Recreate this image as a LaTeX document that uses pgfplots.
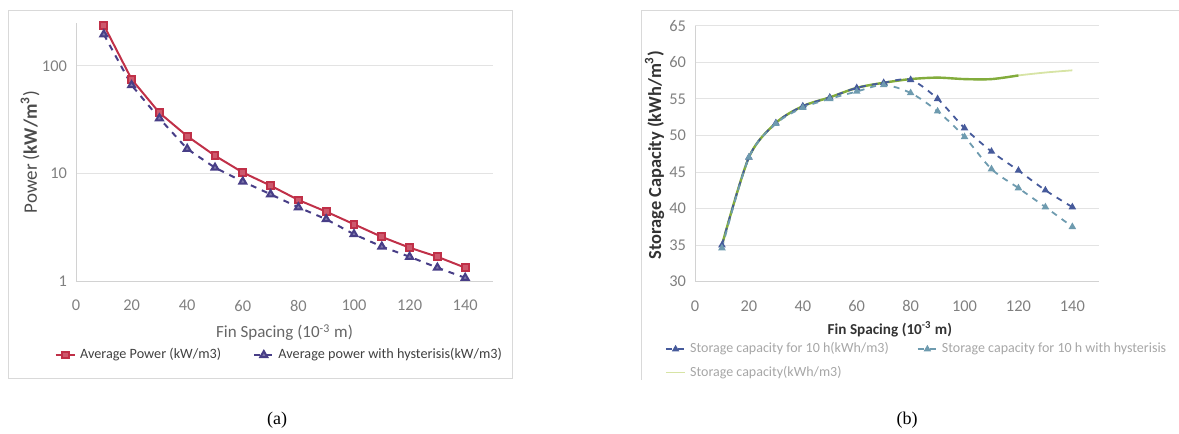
\documentclass[border=0pt]{standalone}
\usepackage{fontspec}
\setmainfont{Carlito}
\newfontfamily\capfont{Liberation Serif}
\usepackage{pgfplots}
\pgfplotsset{compat=1.18}
\definecolor{pred}{RGB}{192,48,72}
\definecolor{ppur}{RGB}{72,62,135}
\definecolor{bblue}{RGB}{70,90,155}
\definecolor{bteal}{RGB}{110,155,175}
\definecolor{bgreen}{RGB}{130,172,60}
\definecolor{bpale}{RGB}{215,228,165}
\begin{document}
\begin{tikzpicture}
\useasboundingbox (0,0) rectangle (589.5pt,217pt);
% frames
\draw[gray!30] (4pt,28pt) rectangle (256pt,212pt);
\draw[gray!30] (320.5pt,27pt) -- (320.5pt,212pt) -- (589.5pt,212pt);
\pgfplotsset{
  common/.style={
    scale only axis, anchor=south west,
    xmin=0, xmax=150, xtick={0,20,...,140},
    axis lines*=left,
    axis line style={gray!35},
    ymajorgrids, grid style={gray!22},
    major tick length=0pt, tick style={draw=none},
    /pgf/number format/assume math mode=true,
    ticklabel style={font=\fontsize{8.2}{9}\selectfont, text=gray},
    xticklabel style={yshift=-6pt},
    yticklabel style={xshift=-1pt},
    legend image code/.code={\draw[mark repeat=2,mark phase=2,##1] plot coordinates {(0cm,0cm) (0.17cm,0cm) (0.34cm,0cm)};},
  }
}
\begin{axis}[common,
  at={(38pt,76.5pt)}, width=208.5pt, height=129pt,
  ymode=log, ymin=1, ymax=250,
  ytick={1,10,100}, yticklabels={1,10,100},
  xlabel={Fin Spacing (10\textsuperscript{-3} m)},
  xlabel style={at={(axis description cs:0.5,-0.20)}, anchor=center, font=\fontsize{8.5}{10}\selectfont, text=gray!80!black},
  ylabel={Power (\textbf{kW/m\textsuperscript{3}})},
  ylabel style={at={(axis description cs:-0.11,0.5)}, anchor=center, font=\fontsize{9.5}{11}\selectfont, text=gray!60!black},
  legend style={at={(axis description cs:0.49,-0.287)}, anchor=center, draw=none, fill=none,
    legend columns=2, font=\fontsize{7.1}{9}\selectfont, text=gray!50!black,
    /tikz/every even column/.append style={column sep=14pt}},
  legend cell align=left,
]
\addplot[pred, line width=1pt, mark=square*, mark size=1.7pt, mark options={solid, fill=pred!80}] coordinates {
(10,239) (20,75) (30,36.6) (40,22.2) (50,14.6) (60,10.2) (70,7.7) (80,5.66) (90,4.41) (100,3.37) (110,2.57) (120,2.04) (130,1.68) (140,1.33)};
\addlegendentry{Average Power (kW/m3)}
\addplot[ppur, line width=1pt, dashed, mark=triangle*, mark size=2pt, mark options={solid, fill=ppur!70}] coordinates {
(10,196) (20,66) (30,32.5) (40,16.9) (50,11.3) (60,8.4) (70,6.4) (80,4.84) (90,3.75) (100,2.72) (110,2.09) (120,1.68) (130,1.33) (140,1.07)};
\addlegendentry{Average power with hysterisis(kW/m3)}
\end{axis}
\begin{axis}[common,
  at={(347.5pt,76.15pt)}, width=202.15pt, height=128pt,
  ymin=30, ymax=65, ytick={30,35,...,65},
  xlabel={\textbf{Fin Spacing (10\textsuperscript{-3} m)}},
  xlabel style={at={(axis description cs:0.482,-0.185)}, anchor=center, font=\fontsize{7.6}{9}\selectfont, text=black!80},
  ylabel={\textbf{Storage Capacity (kWh/m\textsuperscript{3})}},
  ylabel style={at={(axis description cs:-0.10,0.495)}, anchor=center, font=\fontsize{9.2}{11}\selectfont, text=black!80},
  legend style={at={(axis description cs:-0.09,-0.205)}, anchor=north west, draw=none, fill=none,
    legend columns=2, font=\fontsize{7}{8}\selectfont, text=gray!70, row sep=1pt,
    /tikz/every even column/.append style={column sep=12pt}},
  legend cell align=left,
]
\addplot[bpale, line width=0.9pt, smooth, forget plot] coordinates {
(10,35.0) (20,47.0) (30,51.7) (40,54.0) (50,55.2) (60,56.5) (70,57.2) (80,57.7) (90,57.9) (100,57.7) (110,57.7) (120,58.2) (130,58.6) (140,58.9)};
\addplot[bgreen, line width=1.2pt, smooth, forget plot] coordinates {
(10,35.0) (20,47.0) (30,51.7) (40,54.0) (50,55.2) (60,56.5) (70,57.2) (80,57.7) (90,57.9) (100,57.7) (110,57.7) (120,58.2)};
\addplot[bblue, line width=0.9pt, dashed, smooth, mark=triangle*, mark size=1.3pt, mark options={solid}] coordinates {
(10,35.0) (20,47.0) (30,51.7) (40,54.0) (50,55.2) (60,56.5) (70,57.2) (80,57.6) (90,55.0) (100,51.0) (110,47.8) (120,45.2) (130,42.5) (140,40.2)};
\addlegendentry{Storage capacity for 10 h(kWh/m3)}
\addplot[bteal, line width=0.9pt, dashed, smooth, mark=triangle*, mark size=1.3pt, mark options={solid}] coordinates {
(10,34.6) (20,47.0) (30,51.6) (40,53.8) (50,55.0) (60,56.0) (70,56.9) (80,55.8) (90,53.3) (100,49.8) (110,45.4) (120,42.8) (130,40.2) (140,37.5)};
\addlegendentry{Storage capacity for 10 h with hysterisis}
\addlegendimage{bpale, line width=0.9pt}
\addlegendentry{Storage capacity(kWh/m3)}
\end{axis}
\node[font=\capfont\fontsize{9}{10}\selectfont] at (138.5pt,7pt) {(a)};
\node[font=\capfont\fontsize{9}{10}\selectfont] at (453.5pt,7pt) {(b)};
\end{tikzpicture}
\end{document}
